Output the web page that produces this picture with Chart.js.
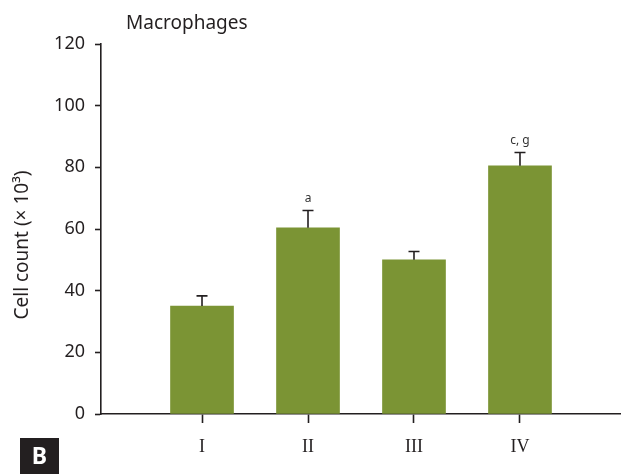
<!DOCTYPE html>
<html>
<head>
<meta charset="utf-8">
<script src="https://cdn.jsdelivr.net/npm/chart.js@4.4.0/dist/chart.umd.min.js"></script>
<style>
  html, body { margin: 0; padding: 0; background: #ffffff; }
  #wrap { width: 621px; height: 474px; position: relative; }
</style>
</head>
<body>
<div id="wrap"><canvas id="c" width="621" height="474"></canvas></div>
<script>
const categories = ['I', 'II', 'III', 'IV'];
const positions = [1, 2, 3, 4];
const values = [35, 60.4, 50, 80.5];
const errors = [3.3, 5.6, 2.7, 4.3];
const annotations = ['', 'a', '', 'c, g'];
const yTicks = [0, 20, 40, 60, 80, 100, 120];

const INK = '#231f20';
const BAR = '#7b9434';
const SANS = '"Noto Sans"';

const overlay = {
  id: 'overlay',
  afterDatasetsDraw(chart) {
    const ctx = chart.ctx;
    const xs = chart.scales.x, ys = chart.scales.y;
    ctx.save();
    ctx.strokeStyle = INK;
    ctx.lineWidth = 1.6;
    for (let i = 0; i < values.length; i++) {
      const px = xs.getPixelForValue(positions[i]);
      const top = ys.getPixelForValue(values[i]);
      const et = ys.getPixelForValue(values[i] + errors[i]);
      ctx.beginPath();
      ctx.moveTo(px, top);
      ctx.lineTo(px, et);
      ctx.moveTo(px - 5.5, et);
      ctx.lineTo(px + 5.5, et);
      ctx.stroke();
      if (annotations[i]) {
        ctx.fillStyle = '#333333';
        ctx.font = '12px ' + SANS;
        ctx.textAlign = 'center';
        ctx.textBaseline = 'middle';
        ctx.fillText(annotations[i], px, et - 12);
      }
    }
    ctx.fillStyle = INK;
    ctx.font = '19px ' + SANS;
    ctx.textAlign = 'left';
    ctx.textBaseline = 'middle';
    ctx.fillText('Macrophages', 126, 24);
    ctx.save();
    ctx.translate(23, 245);
    ctx.rotate(-Math.PI / 2);
    ctx.textAlign = 'center';
    ctx.textBaseline = 'middle';
    ctx.font = '19px ' + SANS;
    ctx.fillText('Cell count (\u00d7 10\u00b3)', 0, 0);
    ctx.restore();
    ctx.fillStyle = INK;
    ctx.fillRect(20, 438, 39, 36);
    ctx.fillStyle = '#ffffff';
    ctx.font = 'bold 23px ' + SANS;
    ctx.textAlign = 'center';
    ctx.textBaseline = 'middle';
    ctx.fillText('B', 39.5, 457);
    ctx.restore();
  }
};

new Chart(document.getElementById('c'), {
  type: 'bar',
  data: {
    datasets: [{
      data: positions.map((p, i) => ({ x: p, y: values[i] })),
      backgroundColor: BAR,
      borderWidth: 0,
      barThickness: 63
    }]
  },
  options: {
    responsive: false,
    animation: false,
    layout: { padding: { top: 44, right: 0, left: 0, bottom: 0 } },
    plugins: { legend: { display: false }, tooltip: { enabled: false }, title: { display: false } },
    scales: {
      x: {
        type: 'linear',
        offset: false,
        min: 0.047,
        max: 4.953,
        afterBuildTicks(scale) { scale.ticks = positions.map(v => ({ value: v })); },
        afterFit(scale) { scale.height = 60; },
        grid: { offset: false, drawOnChartArea: false, drawTicks: true, tickLength: 9, tickColor: INK, tickWidth: 1.6 },
        border: { display: true, color: INK, width: 1.6 },
        ticks: {
          autoSkip: false,
          maxRotation: 0,
          padding: 13,
          color: INK,
          font: { family: '"Liberation Serif"', size: 18 },
          callback(v) { const i = positions.indexOf(v); return i >= 0 ? categories[i] : ''; }
        }
      },
      y: {
        min: 0,
        max: 120,
        afterBuildTicks(scale) { scale.ticks = yTicks.map(v => ({ value: v })); },
        afterFit(scale) { scale.width = 101; },
        grid: { drawOnChartArea: false, drawTicks: true, tickLength: 6, tickColor: INK, tickWidth: 1.6 },
        border: { display: true, color: INK, width: 1.6 },
        ticks: {
          padding: 10,
          color: INK,
          font: { family: SANS, size: 18 }
        }
      }
    }
  },
  plugins: [overlay]
});
</script>
</body>
</html>
